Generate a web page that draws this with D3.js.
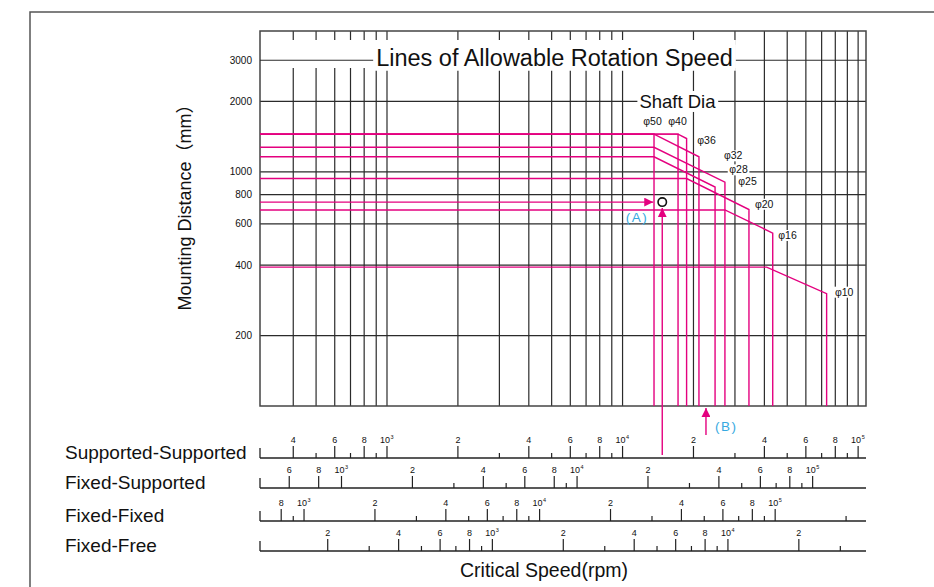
<!DOCTYPE html>
<html>
<head>
<meta charset="utf-8">
<script src="https://cdn.jsdelivr.net/npm/d3@7"></script>
<style>
  body { margin: 0; background: #fff; }
  text { font-family: "Liberation Sans", Arial, "Noto Sans CJK JP", sans-serif; fill: #111; }
</style>
</head>
<body>
<svg id="chart"></svg>
<script>
// ---- data ----
const distanceTicks = [200, 400, 600, 800, 1000, 2000, 3000];          // mm
const speedGrid = [400, 500, 600, 700, 800, 900, 1000,
  2000, 3000, 4000, 5000, 6000, 7000, 8000, 9000, 10000,
  20000, 30000, 40000, 50000, 60000, 70000, 80000, 90000, 100000];   // rpm (supported-supported)

const shaftDia    = [50, 40, 36, 32, 28, 25, 20, 16, 10];
const maxLength   = [1450, 1450, 1450, 1450, 1161, 1274, 937, 688, 392];       // mm, flat part
const bendSpeed   = [13600, 17200, 17200, 13600, 13600, 13600, 18700, 27200, 40900]; // rpm, start of slope
const limitSpeed  = [13600, 17200, 18700, 21100, 24700, 27200, 34400, 43400, 73500]; // rpm, vertical
const limitLength = [1450, 1450, 1389, 1161, 862, 905, 691, 548, 302];         // mm, top of vertical
const labelSpeed  = [12240, 15630, 20750, 26940, 28370, 30980, 36470, 45810, 79700];
const labelLength = [1586, 1586, 1316, 1132, 986, 879, 703, 517, 296];

const pointA = { speed: 14740, length: 743 };
const pointB = { speed: 22600 };

const mountings = ['Supported-Supported', 'Fixed-Supported', 'Fixed-Fixed', 'Fixed-Free'];
const mountFactor = [1, 1.56, 2.25, 0.357];
const majorTicks = [
  [400, 600, 800, 1000, 2000, 4000, 6000, 8000, 10000, 20000, 40000, 60000, 80000, 100000],
  [600, 800, 1000, 2000, 4000, 6000, 8000, 10000, 20000, 40000, 60000, 80000, 100000],
  [800, 1000, 2000, 4000, 6000, 8000, 10000, 20000, 40000, 60000, 80000, 100000],
  [200, 400, 600, 800, 1000, 2000, 4000, 6000, 8000, 10000, 20000]
];
const minorTicks = [
  [500, 700, 900, 3000, 5000, 7000, 9000, 30000, 50000, 70000, 90000],
  [3000, 5000, 9000, 30000, 50000, 70000, 90000],
  [900, 3000, 5000, 7000, 9000, 30000, 50000, 70000, 90000, 200000],
  [300, 500, 700, 900, 3000, 5000, 7000, 9000, 30000]
];

// ---- layout ----
const W = 934, H = 587;
const PINK = '#e4007f', BLUE = '#36a9e1', GRID = '#2b2b2b';
const rowY = [458, 488, 521, 551];

const svg = d3.select('#chart').attr('width', W).attr('height', H);

const x = d3.scaleLog().domain([289, 108000]).range([260, 866]);
const y = d3.scaleLog().domain([100, 4000]).range([406, 31]);
const [x0, x1] = x.range();
const [y0, y1] = y.range();

// layers, bottom to top
const gGrid = svg.append('g');
const gBand = svg.append('g');
const gBg = svg.append('g');
const gPink = svg.append('g');
const gTop = svg.append('g');

// outer page border
gGrid.append('path')
  .attr('d', `M30,${H} L30,12 L${W},12`)
  .attr('fill', 'none').attr('stroke', '#555').attr('stroke-width', 1.5);

// vertical grid
gGrid.append('g').selectAll('line').data(speedGrid).join('line')
  .attr('x1', d => x(d)).attr('x2', d => x(d))
  .attr('y1', y1).attr('y2', y0)
  .attr('stroke', GRID).attr('stroke-width', 1.2);

// horizontal grid (3000 is drawn over the title band)
gGrid.append('g').selectAll('line').data(distanceTicks.filter(d => d !== 3000)).join('line')
  .attr('x1', x0).attr('x2', x1)
  .attr('y1', d => y(d)).attr('y2', d => y(d))
  .attr('stroke', GRID).attr('stroke-width', 1.2);

// y tick labels
gGrid.append('g').selectAll('text').data(distanceTicks).join('text')
  .attr('x', 252).attr('y', d => y(d) + 3.5)
  .attr('text-anchor', 'end').style('font-size', '10px')
  .text(d => d);

// frame
gGrid.append('rect')
  .attr('x', x0).attr('y', y1).attr('width', x1 - x0).attr('height', y0 - y1)
  .attr('fill', 'none').attr('stroke', '#444').attr('stroke-width', 1.5);

// title with its white band
const title = gTop.append('text')
  .attr('x', 554.5).attr('y', y(3000) + 5.5)
  .attr('text-anchor', 'middle').style('font-size', '23.5px')
  .text('Lines of Allowable Rotation Speed');
const tb = title.node().getBBox();
gBand.append('rect')
  .attr('x', x0 + 2).attr('y', 40).attr('width', tb.x + tb.width + 3 - x0 - 2).attr('height', 28)
  .attr('fill', '#fff');
gBand.append('line')
  .attr('x1', x0).attr('x2', x1).attr('y1', y(3000)).attr('y2', y(3000))
  .attr('stroke', GRID).attr('stroke-width', 1.2);
gBand.append('rect')
  .attr('x', tb.x - 3).attr('y', tb.y).attr('width', tb.width + 6).attr('height', tb.height)
  .attr('fill', '#fff');

// "Shaft Dia"
const shaft = gTop.append('text')
  .attr('x', x(17100)).attr('y', y(2000) + 6.5)
  .attr('text-anchor', 'middle').style('font-size', '18.5px')
  .text('Shaft Dia');
const sb = shaft.node().getBBox();
gBg.append('rect')
  .attr('x', sb.x - 2).attr('y', sb.y).attr('width', sb.width + 4).attr('height', sb.height)
  .attr('fill', '#fff');

// allowable speed lines
const line = d3.line().x(d => x(d[0])).y(d => y(d[1]));
gPink.selectAll('path').data(shaftDia).join('path')
  .attr('d', (d, i) => line([
    [289, maxLength[i]],
    [bendSpeed[i], maxLength[i]],
    [limitSpeed[i], limitLength[i]],
    [limitSpeed[i], 100]
  ]))
  .attr('fill', 'none').attr('stroke', PINK).attr('stroke-width', 1.4);

// diameter labels
shaftDia.forEach((d, i) => {
  const t = gTop.append('text')
    .attr('x', x(labelSpeed[i])).attr('y', y(labelLength[i]))
    .style('font-size', '10.5px')
    .text('φ' + d);
  const b = t.node().getBBox();
  gBg.append('rect')
    .attr('x', b.x - 1.5).attr('y', b.y + 1).attr('width', b.width + 3).attr('height', b.height - 1)
    .attr('fill', '#fff');
});

// arrows
const defs = svg.append('defs');
defs.append('marker')
  .attr('id', 'head').attr('viewBox', '0 0 10 10')
  .attr('refX', 10).attr('refY', 5)
  .attr('markerWidth', 9).attr('markerHeight', 9)
  .attr('markerUnits', 'userSpaceOnUse')
  .attr('orient', 'auto')
  .append('path').attr('d', 'M0,0 L10,5 L0,10 Z').attr('fill', PINK);

const ax = x(pointA.speed), ay = y(pointA.length);
gTop.append('line')
  .attr('x1', x0).attr('x2', ax - 9).attr('y1', ay).attr('y2', ay)
  .attr('stroke', PINK).attr('stroke-width', 1.4).attr('marker-end', 'url(#head)');
gTop.append('line')
  .attr('x1', ax).attr('x2', ax).attr('y1', rowY[0] - 3).attr('y2', ay + 6)
  .attr('stroke', PINK).attr('stroke-width', 1.4).attr('marker-end', 'url(#head)');
gTop.append('circle')
  .attr('cx', ax).attr('cy', ay).attr('r', 4.2)
  .attr('fill', '#fff').attr('stroke', '#111').attr('stroke-width', 1.6);
gTop.append('text')
  .attr('x', ax - 14).attr('y', ay + 20)
  .attr('text-anchor', 'end').style('font-size', '13.5px').style('fill', BLUE)
  .style('letter-spacing', '1.5px')
  .text('(A)');

const bx = x(pointB.speed);
gTop.append('line')
  .attr('x1', bx).attr('x2', bx).attr('y1', 435).attr('y2', y0 + 2)
  .attr('stroke', PINK).attr('stroke-width', 1.4).attr('marker-end', 'url(#head)');
gTop.append('text')
  .attr('x', bx + 9).attr('y', 431)
  .style('font-size', '13.5px').style('fill', BLUE)
  .style('letter-spacing', '1.5px')
  .text('(B)');

// critical speed scales for each mounting method
mountings.forEach((name, r) => {
  const f = mountFactor[r];
  const s = d3.scaleLog().domain([289 * f, 108000 * f]).range([x0, x1]);
  const g = gTop.append('g').attr('transform', `translate(0, ${rowY[r]})`);

  g.append('line').attr('x1', x0).attr('x2', x1)
    .attr('stroke', '#222').attr('stroke-width', 1.3);
  g.append('line').attr('x1', x0).attr('x2', x0).attr('y1', 0).attr('y2', -10)
    .attr('stroke', '#222').attr('stroke-width', 1.3);

  g.append('g').selectAll('line').data(minorTicks[r]).join('line')
    .attr('x1', d => s(d)).attr('x2', d => s(d)).attr('y1', 0).attr('y2', -5)
    .attr('stroke', '#222').attr('stroke-width', 1.2);

  g.append('g').selectAll('line').data(majorTicks[r]).join('line')
    .attr('x1', d => s(d)).attr('x2', d => s(d)).attr('y1', 0).attr('y2', -12)
    .attr('stroke', '#222').attr('stroke-width', 1.2);

  majorTicks[r].forEach(v => {
    const exp = Math.round(Math.log10(v));
    const lead = Math.round(v / Math.pow(10, Math.floor(Math.log10(v))));
    if (Math.abs(v - Math.pow(10, exp)) < 1e-6) {
      g.append('text').attr('x', s(v) - 2).attr('y', -15)
        .attr('text-anchor', 'middle').style('font-size', '9px').text('10');
      g.append('text').attr('x', s(v) + 3.5).attr('y', -19)
        .style('font-size', '5.5px').text(exp);
    } else {
      g.append('text').attr('x', s(v)).attr('y', -15)
        .attr('text-anchor', 'middle').style('font-size', '9px').text(lead);
    }
  });

  gTop.append('text')
    .attr('x', 65).attr('y', rowY[r] + 1)
    .style('font-size', '19px')
    .text(name);
});

// axis titles
gTop.append('text')
  .attr('x', 460).attr('y', 577)
  .style('font-size', '19.5px')
  .text('Critical Speed(rpm)');

gTop.append('text')
  .attr('transform', 'translate(191, 203) rotate(-90)')
  .attr('text-anchor', 'middle')
  .style('font-size', '18px')
  .text('Mounting Distance（mm）');
</script>
</body>
</html>
